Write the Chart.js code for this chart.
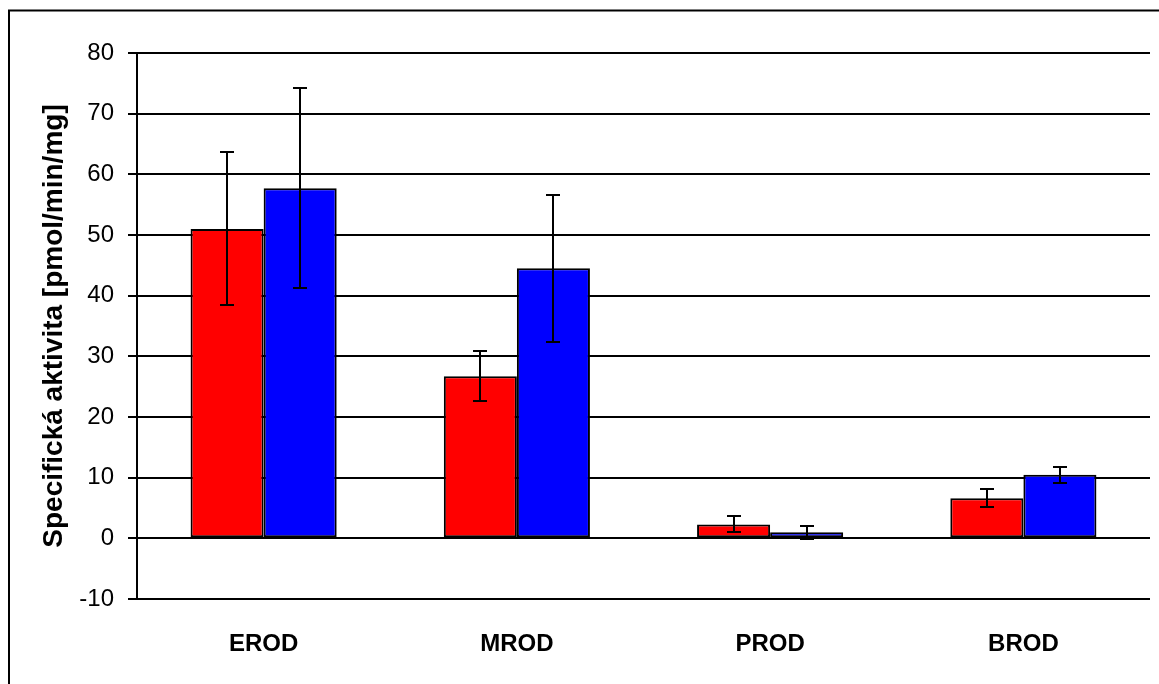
<!DOCTYPE html>
<html>
<head>
<meta charset="utf-8">
<script src="https://cdn.jsdelivr.net/npm/chart.js@4.4.1/dist/chart.umd.min.js"></script>
<style>
  html, body { margin: 0; padding: 0; background: #ffffff; }
  #wrap { width: 1159px; height: 684px; overflow: hidden; }
  canvas { display: block; }
</style>
</head>
<body>
<div id="wrap"><canvas id="c" width="1159" height="684"></canvas></div>
<script>
// Enzyme activities (mean ± error) per substrate
const categories = ['EROD', 'MROD', 'PROD', 'BROD'];
const redValues  = [51.0, 26.7, 2.3, 6.6];
const redErrors  = [12.6, 4.1, 1.3, 1.5];
const blueValues = [57.7, 44.5, 1.0, 10.5];
const blueErrors = [16.5, 12.1, 1.1, 1.3];
const yTicks = [-10, 0, 10, 20, 30, 40, 50, 60, 70, 80];

const errorsByDataset = [redErrors, blueErrors];

// Draws vertical error bars with caps on top of each bar
const errorBarPlugin = {
  id: 'errorBars',
  afterDatasetsDraw(chart) {
    const ctx = chart.ctx;
    const yScale = chart.scales.y;
    ctx.save();
    ctx.strokeStyle = '#000000';
    ctx.lineWidth = 2;
    chart.data.datasets.forEach((ds, di) => {
      const meta = chart.getDatasetMeta(di);
      const errs = errorsByDataset[di];
      meta.data.forEach((bar, i) => {
        const v = ds.data[i];
        const e = errs[i];
        const x = Math.round(bar.x);
        const yTop = Math.round(yScale.getPixelForValue(v + e));
        const yBot = Math.round(yScale.getPixelForValue(v - e));
        const cap = 7;
        ctx.beginPath();
        ctx.moveTo(x, yTop);
        ctx.lineTo(x, yBot);
        ctx.moveTo(x - cap, yTop);
        ctx.lineTo(x + cap, yTop);
        ctx.moveTo(x - cap, yBot);
        ctx.lineTo(x + cap, yBot);
        ctx.stroke();
      });
    });
    ctx.restore();
  }
};

// White background and the outer frame around the chart
const framePlugin = {
  id: 'frame',
  beforeDraw(chart) {
    const ctx = chart.ctx;
    ctx.save();
    ctx.fillStyle = '#ffffff';
    ctx.fillRect(0, 0, chart.width, chart.height);
    ctx.strokeStyle = '#000000';
    ctx.lineWidth = 2;
    ctx.beginPath();
    ctx.moveTo(9, chart.height + 5);
    ctx.lineTo(9, 10.5);
    ctx.lineTo(chart.width + 5, 10.5);
    ctx.stroke();
    ctx.restore();
  }
};

const fontFamily = '"Liberation Sans", Arial, sans-serif';

new Chart(document.getElementById('c'), {
  type: 'bar',
  data: {
    labels: categories,
    datasets: [
      {
        label: 'Série 1',
        data: redValues,
        backgroundColor: '#FF0000',
        borderColor: '#000000',
        borderWidth: 2,
        borderSkipped: false
      },
      {
        label: 'Série 2',
        data: blueValues,
        backgroundColor: '#0000FF',
        borderColor: '#000000',
        borderWidth: 2,
        borderSkipped: false
      }
    ]
  },
  options: {
    responsive: false,
    animation: false,
    devicePixelRatio: 1,
    layout: { padding: { left: 0, top: 53, right: 9, bottom: 0 } },
    datasets: {
      bar: { categoryPercentage: 0.577, barPercentage: 1.0 }
    },
    plugins: {
      legend: { display: false },
      tooltip: { enabled: false }
    },
    scales: {
      x: {
        grid: { display: false, drawTicks: false },
        border: { display: false },
        ticks: {
          color: '#000000',
          padding: 31,
          font: { family: fontFamily, size: 24, weight: 'bold' }
        },
        afterFit(scale) { scale.height = 85; }
      },
      y: {
        min: -10,
        max: 80,
        afterBuildTicks(scale) {
          scale.ticks = yTicks.map(v => ({ value: v }));
        },
        grid: {
          color: '#000000',
          lineWidth: 2,
          drawTicks: true,
          tickLength: 9
        },
        border: { display: true, color: '#000000', width: 2 },
        ticks: {
          color: '#000000',
          padding: 14,
          font: { family: fontFamily, size: 24 }
        },
        title: {
          display: true,
          text: 'Specifická aktivita [pmol/min/mg]',
          color: '#000000',
          padding: { top: 37, bottom: 0 },
          font: { family: fontFamily, size: 28, weight: 'bold' }
        },
        afterFit(scale) { scale.width = 137; }
      }
    }
  },
  plugins: [framePlugin, errorBarPlugin]
});
</script>
</body>
</html>
